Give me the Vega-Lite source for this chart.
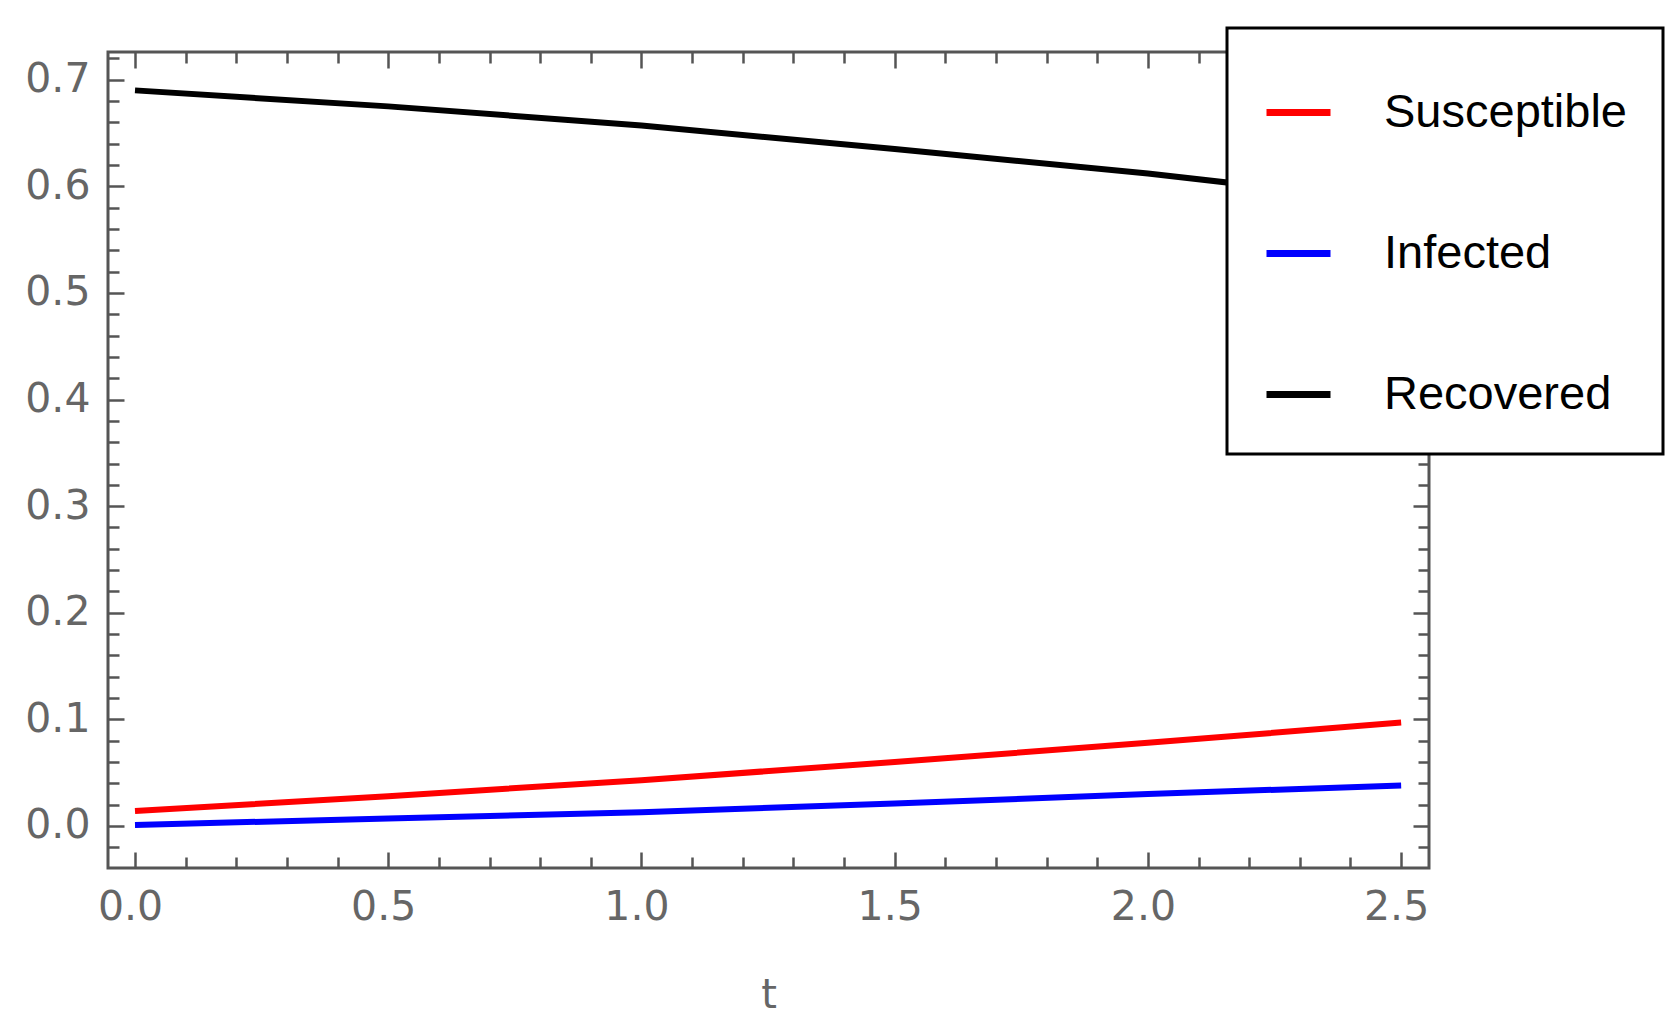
{
  "$schema": "https://vega.github.io/schema/vega-lite/v6.json",
  "width": 1321,
  "height": 816,
  "autosize": {"type": "none"},
  "padding": {"left": 108, "top": 52, "right": 236, "bottom": 166},
  "background": "white",
  "config": {
    "view": {"stroke": "#555555", "strokeWidth": 3},
    "axis": {
      "grid": false,
      "domain": false,
      "labelFont": "DejaVu Sans",
      "labelFontSize": 41,
      "labelColor": "#666666",
      "tickColor": "#555555",
      "tickWidth": 2.5,
      "titleFont": "DejaVu Sans",
      "titleFontSize": 40,
      "titleColor": "#666666",
      "titleFontWeight": "normal"
    },
    "legend": {
      "labelFont": "Liberation Sans",
      "labelFontSize": 47,
      "labelColor": "#000000",
      "labelLimit": 500,
      "titleFontSize": 10
    }
  },
  "data": {
    "values": [
      {"t": 0.0, "value": 0.014, "series": "Susceptible"},
      {"t": 0.5, "value": 0.028, "series": "Susceptible"},
      {"t": 1.0, "value": 0.043, "series": "Susceptible"},
      {"t": 1.5, "value": 0.060, "series": "Susceptible"},
      {"t": 2.0, "value": 0.078, "series": "Susceptible"},
      {"t": 2.5, "value": 0.097, "series": "Susceptible"},
      {"t": 0.0, "value": 0.001, "series": "Infected"},
      {"t": 0.5, "value": 0.007, "series": "Infected"},
      {"t": 1.0, "value": 0.013, "series": "Infected"},
      {"t": 1.5, "value": 0.021, "series": "Infected"},
      {"t": 2.0, "value": 0.030, "series": "Infected"},
      {"t": 2.5, "value": 0.038, "series": "Infected"},
      {"t": 0.0, "value": 0.690, "series": "Recovered"},
      {"t": 0.5, "value": 0.675, "series": "Recovered"},
      {"t": 1.0, "value": 0.657, "series": "Recovered"},
      {"t": 1.5, "value": 0.635, "series": "Recovered"},
      {"t": 2.0, "value": 0.612, "series": "Recovered"},
      {"t": 2.5, "value": 0.585, "series": "Recovered"}
    ]
  },
  "resolve": {"axis": {"x": "independent", "y": "independent"}},
  "layer": [
    {
      "mark": {"type": "line", "strokeWidth": 6},
      "encoding": {
        "x": {
          "field": "t", "type": "quantitative",
          "scale": {"domain": [-0.0533, 2.555], "nice": false, "zero": false},
          "axis": {
            "orient": "bottom",
            "title": "t",
            "titlePadding": 43,
            "values": [0,0.1,0.2,0.3,0.4,0.5,0.6,0.7,0.8,0.9,1.0,1.1,1.2,1.3,1.4,1.5,1.6,1.7,1.8,1.9,2.0,2.1,2.2,2.3,2.4,2.5],
            "labelExpr": "abs(datum.value*2 - round(datum.value*2)) < 0.001 ? format(datum.value, '.1f') : ''",
            "tickSize": {"condition": {"test": "abs(datum.value*2 - round(datum.value*2)) < 0.001", "value": -16}, "value": -11},
            "labelPadding": 35,
            "labelOffset": -5,
            "labelFlush": false,
            "labelOverlap": false
          }
        },
        "y": {
          "field": "value", "type": "quantitative",
          "scale": {"domain": [-0.0394, 0.726], "nice": false, "zero": false},
          "axis": {
            "orient": "left",
            "title": null,
            "values": [-0.02,0,0.02,0.04,0.06,0.08,0.1,0.12,0.14,0.16,0.18,0.2,0.22,0.24,0.26,0.28,0.3,0.32,0.34,0.36,0.38,0.4,0.42,0.44,0.46,0.48,0.5,0.52,0.54,0.56,0.58,0.6,0.62,0.64,0.66,0.68,0.7,0.72],
            "labelExpr": "abs(datum.value*10 - round(datum.value*10)) < 0.001 ? format(datum.value, '.1f') : ''",
            "tickSize": {"condition": {"test": "abs(datum.value*10 - round(datum.value*10)) < 0.001", "value": -16}, "value": -11},
            "labelPadding": 34,
            "labelFlush": false,
            "labelOverlap": false
          }
        },
        "color": {
          "field": "series", "type": "nominal",
          "scale": {"domain": ["Susceptible", "Infected", "Recovered"], "range": ["#ff0000", "#0000ff", "#000000"]},
          "legend": {
            "title": " ",
            "titlePadding": 3,
            "orient": "none",
            "legendX": 1119,
            "legendY": -24,
            "padding": 36,
            "fillColor": "white",
            "strokeColor": "black",
            "symbolType": "stroke",
            "symbolSize": 4096,
            "symbolStrokeWidth": 7,
            "rowPadding": 82,
            "labelOffset": 50,
            "encode": {"legend": {"update": {"strokeWidth": {"value": 3}}}}
          }
        }
      }
    },
    {
      "mark": {"type": "line", "opacity": 0},
      "encoding": {
        "x": {
          "field": "t", "type": "quantitative",
          "scale": {"domain": [-0.0533, 2.555], "nice": false, "zero": false},
          "axis": {
            "orient": "top",
            "title": null,
            "labels": false,
            "values": [0,0.1,0.2,0.3,0.4,0.5,0.6,0.7,0.8,0.9,1.0,1.1,1.2,1.3,1.4,1.5,1.6,1.7,1.8,1.9,2.0,2.1,2.2,2.3,2.4,2.5],
            "tickSize": {"condition": {"test": "abs(datum.value*2 - round(datum.value*2)) < 0.001", "value": -16}, "value": -11}
          }
        },
        "y": {
          "field": "value", "type": "quantitative",
          "scale": {"domain": [-0.0394, 0.726], "nice": false, "zero": false},
          "axis": {
            "orient": "right",
            "title": null,
            "labels": false,
            "values": [-0.02,0,0.02,0.04,0.06,0.08,0.1,0.12,0.14,0.16,0.18,0.2,0.22,0.24,0.26,0.28,0.3,0.32,0.34,0.36,0.38,0.4,0.42,0.44,0.46,0.48,0.5,0.52,0.54,0.56,0.58,0.6,0.62,0.64,0.66,0.68,0.7,0.72],
            "tickSize": {"condition": {"test": "abs(datum.value*10 - round(datum.value*10)) < 0.001", "value": -16}, "value": -11}
          }
        },
        "detail": {"field": "series", "type": "nominal"}
      }
    }
  ]
}
